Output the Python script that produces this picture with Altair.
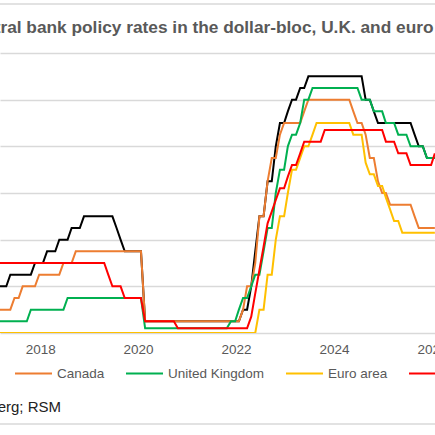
import altair as alt
import pandas as pd
import numpy as np

series_names = ["United States", "Canada", "United Kingdom", "Euro area", "Australia"]
series_colors = ["#000000", "#ED7D31", "#00B050", "#FFC000", "#FF0000"]

us_dates = ["2016-12-15", "2017-03-16", "2017-06-15", "2017-12-14", "2018-03-22", "2018-06-14",
            "2018-09-27", "2018-12-20", "2019-08-01", "2019-09-19", "2019-10-31", "2020-03-04",
            "2020-03-16", "2022-03-17", "2022-05-05", "2022-06-16", "2022-07-28", "2022-09-22",
            "2022-11-03", "2022-12-15", "2023-02-02", "2023-03-23", "2023-05-04", "2023-07-27",
            "2024-09-19", "2024-11-08", "2024-12-19", "2025-09-18", "2025-10-30", "2025-12-11"]
us_rates = [0.75, 1.0, 1.25, 1.5, 1.75, 2.0, 2.25, 2.5, 2.25, 2.0, 1.75, 1.25, 0.25, 0.5, 1.0,
            1.75, 2.5, 3.25, 4.0, 4.5, 4.75, 5.0, 5.25, 5.5, 5.0, 4.75, 4.5, 4.25, 4.0, 3.75]

ca_dates = ["2015-07-15", "2017-07-12", "2017-09-06", "2018-01-17", "2018-07-11", "2018-10-24",
            "2020-03-04", "2020-03-13", "2020-03-27", "2022-03-02", "2022-04-13", "2022-06-01",
            "2022-07-13", "2022-09-07", "2022-10-26", "2022-12-07", "2023-01-25", "2023-06-07",
            "2023-07-12", "2024-06-05", "2024-07-24", "2024-09-04", "2024-10-23", "2024-12-11",
            "2025-01-29", "2025-03-12", "2025-09-17", "2025-10-29"]
ca_rates = [0.5, 0.75, 1.0, 1.25, 1.5, 1.75, 1.25, 0.75, 0.25, 0.5, 1.0, 1.5, 2.5, 3.25, 3.75,
            4.25, 4.5, 4.75, 5.0, 4.75, 4.5, 4.25, 3.75, 3.25, 3.0, 2.75, 2.5, 2.25]

uk_dates = ["2016-08-04", "2017-11-02", "2018-08-02", "2020-03-11", "2020-03-19", "2021-12-16",
            "2022-02-03", "2022-03-17", "2022-05-05", "2022-06-16", "2022-08-04", "2022-09-22",
            "2022-11-03", "2022-12-15", "2023-02-02", "2023-03-23", "2023-05-11", "2023-06-22",
            "2023-08-03", "2024-08-01", "2024-11-07", "2025-02-06", "2025-05-08", "2025-08-07",
            "2025-12-18"]
uk_rates = [0.25, 0.5, 0.75, 0.25, 0.1, 0.25, 0.5, 0.75, 1.0, 1.25, 1.75, 2.25, 3.0, 3.5, 4.0,
            4.25, 4.5, 5.0, 5.25, 5.0, 4.75, 4.5, 4.25, 4.0, 3.75]

eu_dates = ["2016-03-16", "2022-07-27", "2022-09-14", "2022-11-02", "2022-12-21", "2023-02-08",
            "2023-03-22", "2023-05-10", "2023-06-21", "2023-08-02", "2023-09-20", "2024-06-12",
            "2024-09-18", "2024-10-23", "2024-12-18", "2025-02-05", "2025-03-12", "2025-04-23",
            "2025-06-11"]
eu_rates = [0.0, 0.5, 1.25, 2.0, 2.5, 3.0, 3.5, 3.75, 4.0, 4.25, 4.5, 4.25, 3.65, 3.4, 3.15,
            2.9, 2.65, 2.4, 2.15]

au_dates = ["2016-08-02", "2019-06-04", "2019-07-02", "2019-10-01", "2020-03-03", "2020-03-19",
            "2020-11-03", "2022-05-03", "2022-06-07", "2022-07-05", "2022-08-02", "2022-09-06",
            "2022-10-04", "2022-11-01", "2022-12-06", "2023-02-07", "2023-03-07", "2023-05-02",
            "2023-06-06", "2023-11-07", "2025-02-18", "2025-05-20", "2025-08-12", "2026-02-03"]
au_rates = [1.5, 1.25, 1.0, 0.75, 0.5, 0.25, 0.1, 0.35, 0.85, 1.35, 1.85, 2.35, 2.6, 2.85, 3.1,
            3.35, 3.6, 3.85, 4.1, 4.35, 4.1, 3.85, 3.6, 3.85]

x_tick_years = [2018, 2020, 2022, 2024, 2026]
y_ticks = [0, 1, 2, 3, 4, 5, 6]

title_text = "Central bank policy rates in the dollar-bloc, U.K. and euro area"
source_text = "Source: Bloomberg; RSM"

# month-end observations of each policy rate (rate in effect at each month end)
month_ends = pd.date_range("2017-01-31", "2026-02-28", freq="ME")


def month_end_values(dates, rates):
    d = pd.to_datetime(dates).values
    idx = np.searchsorted(d, month_ends.values, side="right") - 1
    return [rates[i] for i in idx]


rows = []
for name, dates, rates in zip(series_names,
                              [us_dates, ca_dates, uk_dates, eu_dates, au_dates],
                              [us_rates, ca_rates, uk_rates, eu_rates, au_rates]):
    for m, r in zip(month_ends, month_end_values(dates, rates)):
        rows.append({"date": m.strftime("%Y-%m-%d"), "rate": r, "series": name})
df = pd.DataFrame(rows)

FONT = "Liberation Sans, Arial, sans-serif"

lines = alt.Chart(df).mark_line(strokeWidth=2, clip=True).encode(
    x=alt.X("date:T",
            scale=alt.Scale(domain=[alt.DateTime(year=2017, month=4, date=14),
                                    alt.DateTime(year=2026, month=3, date=1)]),
            axis=alt.Axis(title=None, domain=False, ticks=False, grid=False,
                          values=[alt.DateTime(year=y, month=1, date=1) for y in x_tick_years],
                          format="%Y", labelFontSize=13.5, labelColor="#595959", labelFont=FONT,
                          labelPadding=9, labelOffset=5, labelFlush=False, labelOverlap=False)),
    y=alt.Y("rate:Q",
            scale=alt.Scale(domain=[0, 6], nice=False),
            axis=alt.Axis(title=None, domain=False, ticks=False, values=y_ticks,
                          gridColor="#d9d9d9", gridWidth=1.5, labelColor="#595959",
                          labelFontSize=13.5, labelFont=FONT)),
    color=alt.Color("series:N",
                    scale=alt.Scale(domain=series_names, range=series_colors),
                    legend=alt.Legend(orient="none", legendX=-131, legendY=301,
                                      direction="horizontal", title=None,
                                      symbolType="stroke", symbolStrokeWidth=2,
                                      symbolSize=1369, labelFontSize=13.5,
                                      labelColor="#595959", labelFont=FONT,
                                      columnPadding=17, labelOffset=4, padding=0)),
)

title_mark = alt.Chart(pd.DataFrame({"t": [title_text]})).mark_text(
    align="left", baseline="alphabetic", font=FONT, fontSize=17.3, fontWeight="bold",
    color="#595959").encode(text="t:N", x=alt.value(-38), y=alt.value(-20))

source_mark = alt.Chart(pd.DataFrame({"t": [source_text]})).mark_text(
    align="right", baseline="alphabetic", font=FONT, fontSize=15,
    color="#222222").encode(text="t:N", x=alt.value(61), y=alt.value(359))

top_rule = alt.Chart(pd.DataFrame({"k": [0]})).mark_rule(
    color="#d9d9d9", strokeWidth=1.5).encode(
    x=alt.value(-60), x2=alt.value(500), y=alt.value(-49))

bottom_rule = alt.Chart(pd.DataFrame({"k": [0]})).mark_rule(
    color="#d9d9d9", strokeWidth=1.5).encode(
    x=alt.value(-60), x2=alt.value(500), y=alt.value(371))

chart = alt.layer(lines, top_rule, bottom_rule, title_mark, source_mark).properties(
    width=435, height=280,
    padding={"left": 0, "top": 53, "right": 0, "bottom": 102},
    autosize=alt.AutoSizeParams(type="none"),
    background="white",
).configure_view(stroke=None)

chart.save("out.html", embed_options={"renderer": "svg", "actions": False})
